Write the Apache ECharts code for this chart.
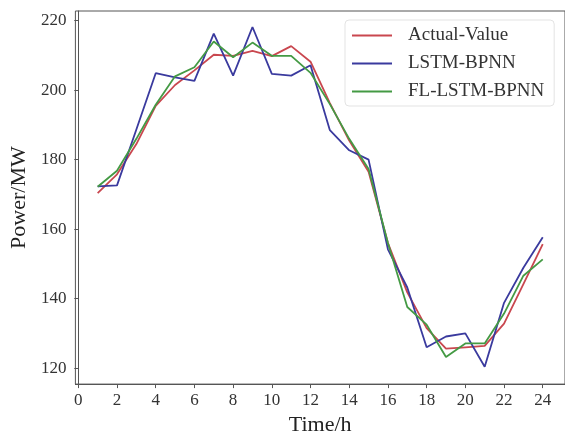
<!DOCTYPE html>
<html>
<head>
<meta charset="utf-8">
<script src="https://cdn.jsdelivr.net/npm/echarts@6/dist/echarts.min.js"></script>
<style>
  html, body { margin: 0; padding: 0; background: #fff; }
  #chart { width: 565px; height: 441px; }
</style>
</head>
<body>
<div id="chart"></div>
<script>
// 数据
var hours = [1, 2, 3, 4, 5, 6, 7, 8, 9, 10, 11, 12, 13, 14, 15, 16, 17, 18, 19, 20, 21, 22, 23, 24];
var actualValue = [170.4, 175.8, 184.5, 195.5, 201.5, 205.7, 210.2, 209.9, 211.3, 209.8, 212.7, 208.2,
                   196.3, 185.5, 176.5, 156.0, 141.8, 131.5, 125.6, 126.0, 126.4, 132.8, 144.2, 155.7];
var lstmBpnn = [172.3, 172.6, 188.7, 204.9, 203.7, 202.7, 216.3, 204.2, 218.2, 204.7, 204.2, 207.2,
                188.5, 182.7, 180.0, 154.2, 143.2, 126.0, 129.1, 130.0, 120.4, 138.8, 148.9, 157.7];
var flLstmBpnn = [172.2, 176.8, 186.0, 195.8, 204.0, 206.6, 214.0, 209.5, 213.7, 209.9, 209.9, 205.0,
                  196.0, 186.0, 177.3, 156.0, 137.6, 132.5, 123.2, 127.1, 127.1, 135.7, 146.6, 151.3];
var xTicks = [0, 2, 4, 6, 8, 10, 12, 14, 16, 18, 20, 22, 24];
var yTicks = [120, 140, 160, 180, 200, 220];

function pairs(vals) {
    return hours.map(function (h, i) { return [h, vals[i]]; });
}

var font = 'Liberation Serif';
var chart = echarts.init(document.getElementById('chart'));
var option = {
    animation: false,
    grid: {
        left: 75, right: -2, top: 11, bottom: 51,
        show: true, borderColor: '#555', borderWidth: 1
    },
    legend: {
        orient: 'vertical',
        left: 345, top: 20,
        padding: [6, 10, 5, 7],
        itemGap: 9,
        itemWidth: 40, itemHeight: 2,
        icon: 'rect',
        borderColor: '#e3e3e3', borderWidth: 1, borderRadius: 4,
        backgroundColor: '#fff',
        textStyle: { fontFamily: font, fontSize: 19, color: '#333', padding: [0, 0, 0, 11] },
        data: ['Actual-Value', 'LSTM-BPNN', 'FL-LSTM-BPNN']
    },
    xAxis: {
        type: 'value',
        min: -0.15, max: 25.15,
        name: 'Time/h',
        nameLocation: 'middle',
        nameGap: 29,
        nameTextStyle: { fontFamily: font, fontSize: 22, color: '#222' },
        axisLine: { lineStyle: { color: '#555' } },
        axisTick: { show: true, length: 4, customValues: xTicks, lineStyle: { color: '#555' } },
        axisLabel: { customValues: xTicks, fontFamily: font, fontSize: 17, color: '#333', margin: 8 },
        splitLine: { show: false }
    },
    yAxis: {
        type: 'value',
        min: 115.4, max: 222.8,
        name: 'Power/MW',
        nameLocation: 'middle',
        nameGap: 44,
        nameTextStyle: { fontFamily: font, fontSize: 22, color: '#222' },
        axisLine: { show: true, lineStyle: { color: '#555' } },
        axisTick: { show: true, length: 4, customValues: yTicks, lineStyle: { color: '#555' } },
        axisLabel: { customValues: yTicks, fontFamily: font, fontSize: 17, color: '#333', margin: 9 },
        splitLine: { show: false }
    },
    series: [
        {
            name: 'Actual-Value', type: 'line', data: pairs(actualValue),
            showSymbol: false, color: '#c9474f', lineStyle: { width: 1.8 }
        },
        {
            name: 'LSTM-BPNN', type: 'line', data: pairs(lstmBpnn),
            showSymbol: false, color: '#3a3a9e', lineStyle: { width: 1.8 }
        },
        {
            name: 'FL-LSTM-BPNN', type: 'line', data: pairs(flLstmBpnn),
            showSymbol: false, color: '#449a44', lineStyle: { width: 1.8 }
        }
    ]
};
chart.setOption(option);
</script>
</body>
</html>
